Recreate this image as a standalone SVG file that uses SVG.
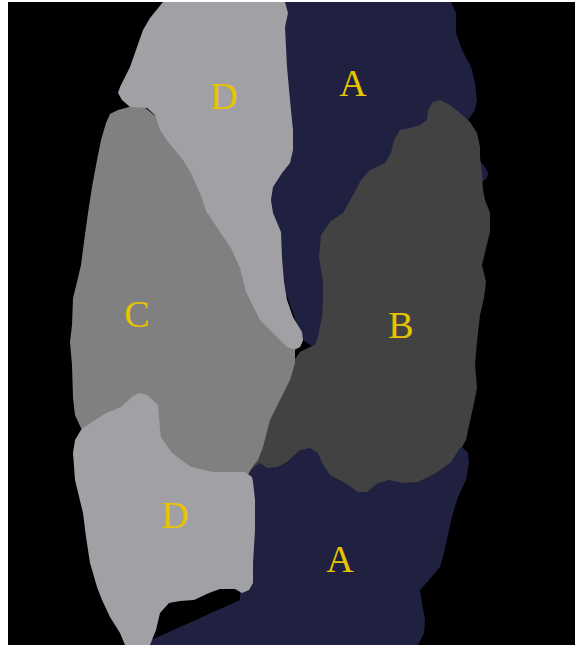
<svg xmlns="http://www.w3.org/2000/svg" width="575" height="645" viewBox="0 0 575 645">
  <style>
    .a { fill: #202040; }
    .b { fill: #424242; }
    .c { fill: #808080; }
    .d { fill: #a1a0a5; }
    .lbl { font-family: "Liberation Serif", "Times New Roman", serif; font-size: 38px; fill: #e6c400; text-anchor: middle; }
  </style>
  <rect x="0" y="0" width="575" height="645" fill="#ffffff"/>
  <rect x="8" y="2" width="567" height="643" fill="#000000"/>

  <!-- region A, upper part -->
  <g id="region-a-upper">
    <polygon class="a" points="270,2 451,2 456,13 456,33 462,50 471,67 475,83 477,100 475,110 468,120 479,140 479,160 485,167 488,173 487,178 482,182 479,185 470,250 320,352 303,340 270,250"/>
    <text class="lbl" x="353" y="96">A</text>
  </g>

  <!-- region A, lower part -->
  <g id="region-a-lower">
    <polygon class="a" points="240,470 253,464 262,455 300,440 462,440 462,447 468,453 469,463 466,480 458,497 453,513 449,530 444,553 440,567 429,580 420,590 422,603 425,620 424,633 418,645 140,645 240,600"/>
    <text class="lbl" x="340" y="572">A</text>
  </g>

  <!-- region B -->
  <g id="region-b">
    <polygon class="b" points="310,347 315,345 318,337 322,317 323,300 323,282 319,258 321,235 330,222 343,213 352,197 361,180 370,170 385,163 391,153 394,140 400,130 410,128 420,125 427,120 428,110 433,102 440,100 450,105 460,113 470,122 477,133 480,147 480,157 482,173 483,190 485,200 490,213 490,232 486,248 482,265 486,282 484,298 480,315 477,342 475,365 477,388 473,408 468,430 466,440 462,447 460,448 451,462 436,473 418,482 403,483 389,480 378,483 367,492 358,492 345,483 330,475 322,463 318,453 310,448 300,450 287,462 277,467 267,468 260,463 255,466 252,470 250,460 280,380 300,352"/>
    <text class="lbl" x="401" y="338">B</text>
  </g>

  <!-- region C -->
  <g id="region-c">
    <polygon class="c" points="118,110 140,104 200,150 265,290 300,335 303,340 300,347 295,350 295,363 290,380 280,400 270,420 263,447 258,460 253,466 245,480 100,480 85,440 81,428 75,415 73,398 72,365 70,342 72,325 73,298 77,282 81,265 84,242 88,213 92,187 97,160 101,140 106,123 110,114"/>
    <text class="lbl" x="137" y="327">C</text>
  </g>

  <!-- region D, upper part -->
  <g id="region-d-upper">
    <polygon class="d" points="163,2 285,2 288,13 285,27 287,67 290,100 293,130 293,150 290,163 282,173 273,187 271,200 273,213 281,232 282,258 284,282 287,300 293,317 302,332 303,340 300,347 293,349 287,347 273,333 260,320 250,300 246,292 240,268 231,248 220,232 209,215 207,213 200,193 191,173 183,160 169,143 160,130 155,115 147,108 130,107 122,100 118,93 120,87 130,67 143,30 150,18"/>
    <text class="lbl" x="224" y="109">D</text>
  </g>

  <!-- region D, lower part -->
  <g id="region-d-lower">
    <polygon class="d" points="83,428 92,422 106,413 121,407 132,397 139,393 147,395 158,405 160,430 161,437 172,453 191,467 213,472 230,472 245,472 252,477 253,482 255,500 255,530 253,563 253,583 249,590 242,593 235,589 220,589 209,593 194,600 180,601 169,603 160,613 156,630 150,645 125,645 120,633 110,617 102,600 97,587 90,563 86,537 83,513 75,480 73,453 75,440 81,430"/>
    <text class="lbl" x="175" y="528">D</text>
  </g>

  <g id="connectors"/>
</svg>
